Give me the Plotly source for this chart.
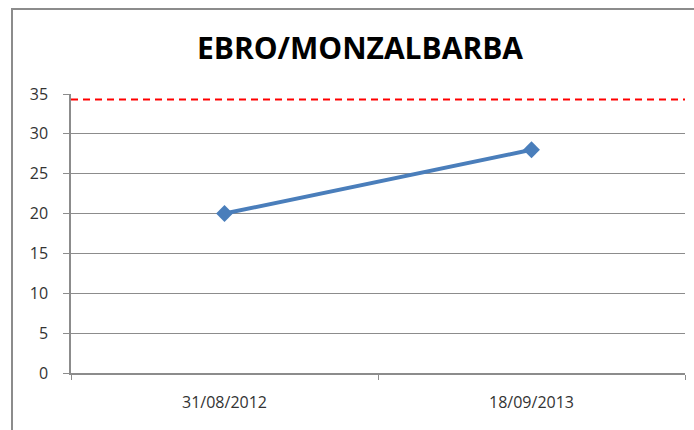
import plotly.graph_objects as go

categories = ["31/08/2012", "18/09/2013"]
values = [20, 28]
limit_value = 34.3
y_ticks = [0, 5, 10, 15, 20, 25, 30, 35]
title_text = "EBRO/MONZALBARBA"

W, H = 694, 430
ml, mr, mt, mb = 71, 9, 94, 57
pw, ph = W - ml - mr, H - mt - mb

fig = go.Figure()
fig.add_trace(go.Scatter(
    x=categories, y=values, mode="lines+markers",
    line=dict(color="#4a7ebb", width=4),
    marker=dict(symbol="diamond", size=13, color="#4a7ebb"),
    showlegend=False, hoverinfo="skip"
))

fig.add_shape(type="line", xref="paper", yref="y", x0=0, x1=1,
              y0=limit_value, y1=limit_value,
              line=dict(color="#ff0000", width=2, dash="7px,5px"))

# outer chart border
fig.add_shape(type="rect", xref="paper", yref="paper",
              x0=(12 - ml) / pw, x1=(710 - ml) / pw,
              y0=(H - mb - 445) / ph, y1=(H - mb - 9) / ph,
              line=dict(color="#8c8c8c", width=2), fillcolor="rgba(0,0,0,0)", layer="above")

fig.update_layout(
    width=W, height=H,
    margin=dict(l=ml, r=mr, t=mt, b=mb),
    paper_bgcolor="white", plot_bgcolor="white",
    title=dict(text="<b>" + title_text + "</b>", x=360 / W, xanchor="center",
               y=1 - 48 / H, yanchor="middle",
               font=dict(family="Open Sans", size=30, color="#000000")),
    font=dict(family="Open Sans", size=16, color="#333333"),
)
fig.update_xaxes(
    type="category", range=[-0.5, 1.5], tickson="boundaries",
    ticks="outside", ticklen=5, tickcolor="#8c8c8c",
    showline=True, linecolor="#8c8c8c", linewidth=1.5,
    showgrid=False, zeroline=False,
    tickfont=dict(family="Open Sans", size=16, color="#333333"),
    ticklabelstandoff=14,
)
fig.update_yaxes(
    range=[0, 35], tickvals=y_ticks,
    ticks="outside", ticklen=6, tickcolor="#8c8c8c",
    showline=True, linecolor="#8c8c8c", linewidth=1.5,
    showgrid=True, gridcolor="#8c8c8c", gridwidth=1, zeroline=False,
    tickfont=dict(family="Open Sans", size=16, color="#333333"),
    ticklabelstandoff=12,
)

fig.write_html("out.html", config={"displayModeBar": False},
               post_script="document.body.style.margin='0';document.body.style.overflow='hidden';")
